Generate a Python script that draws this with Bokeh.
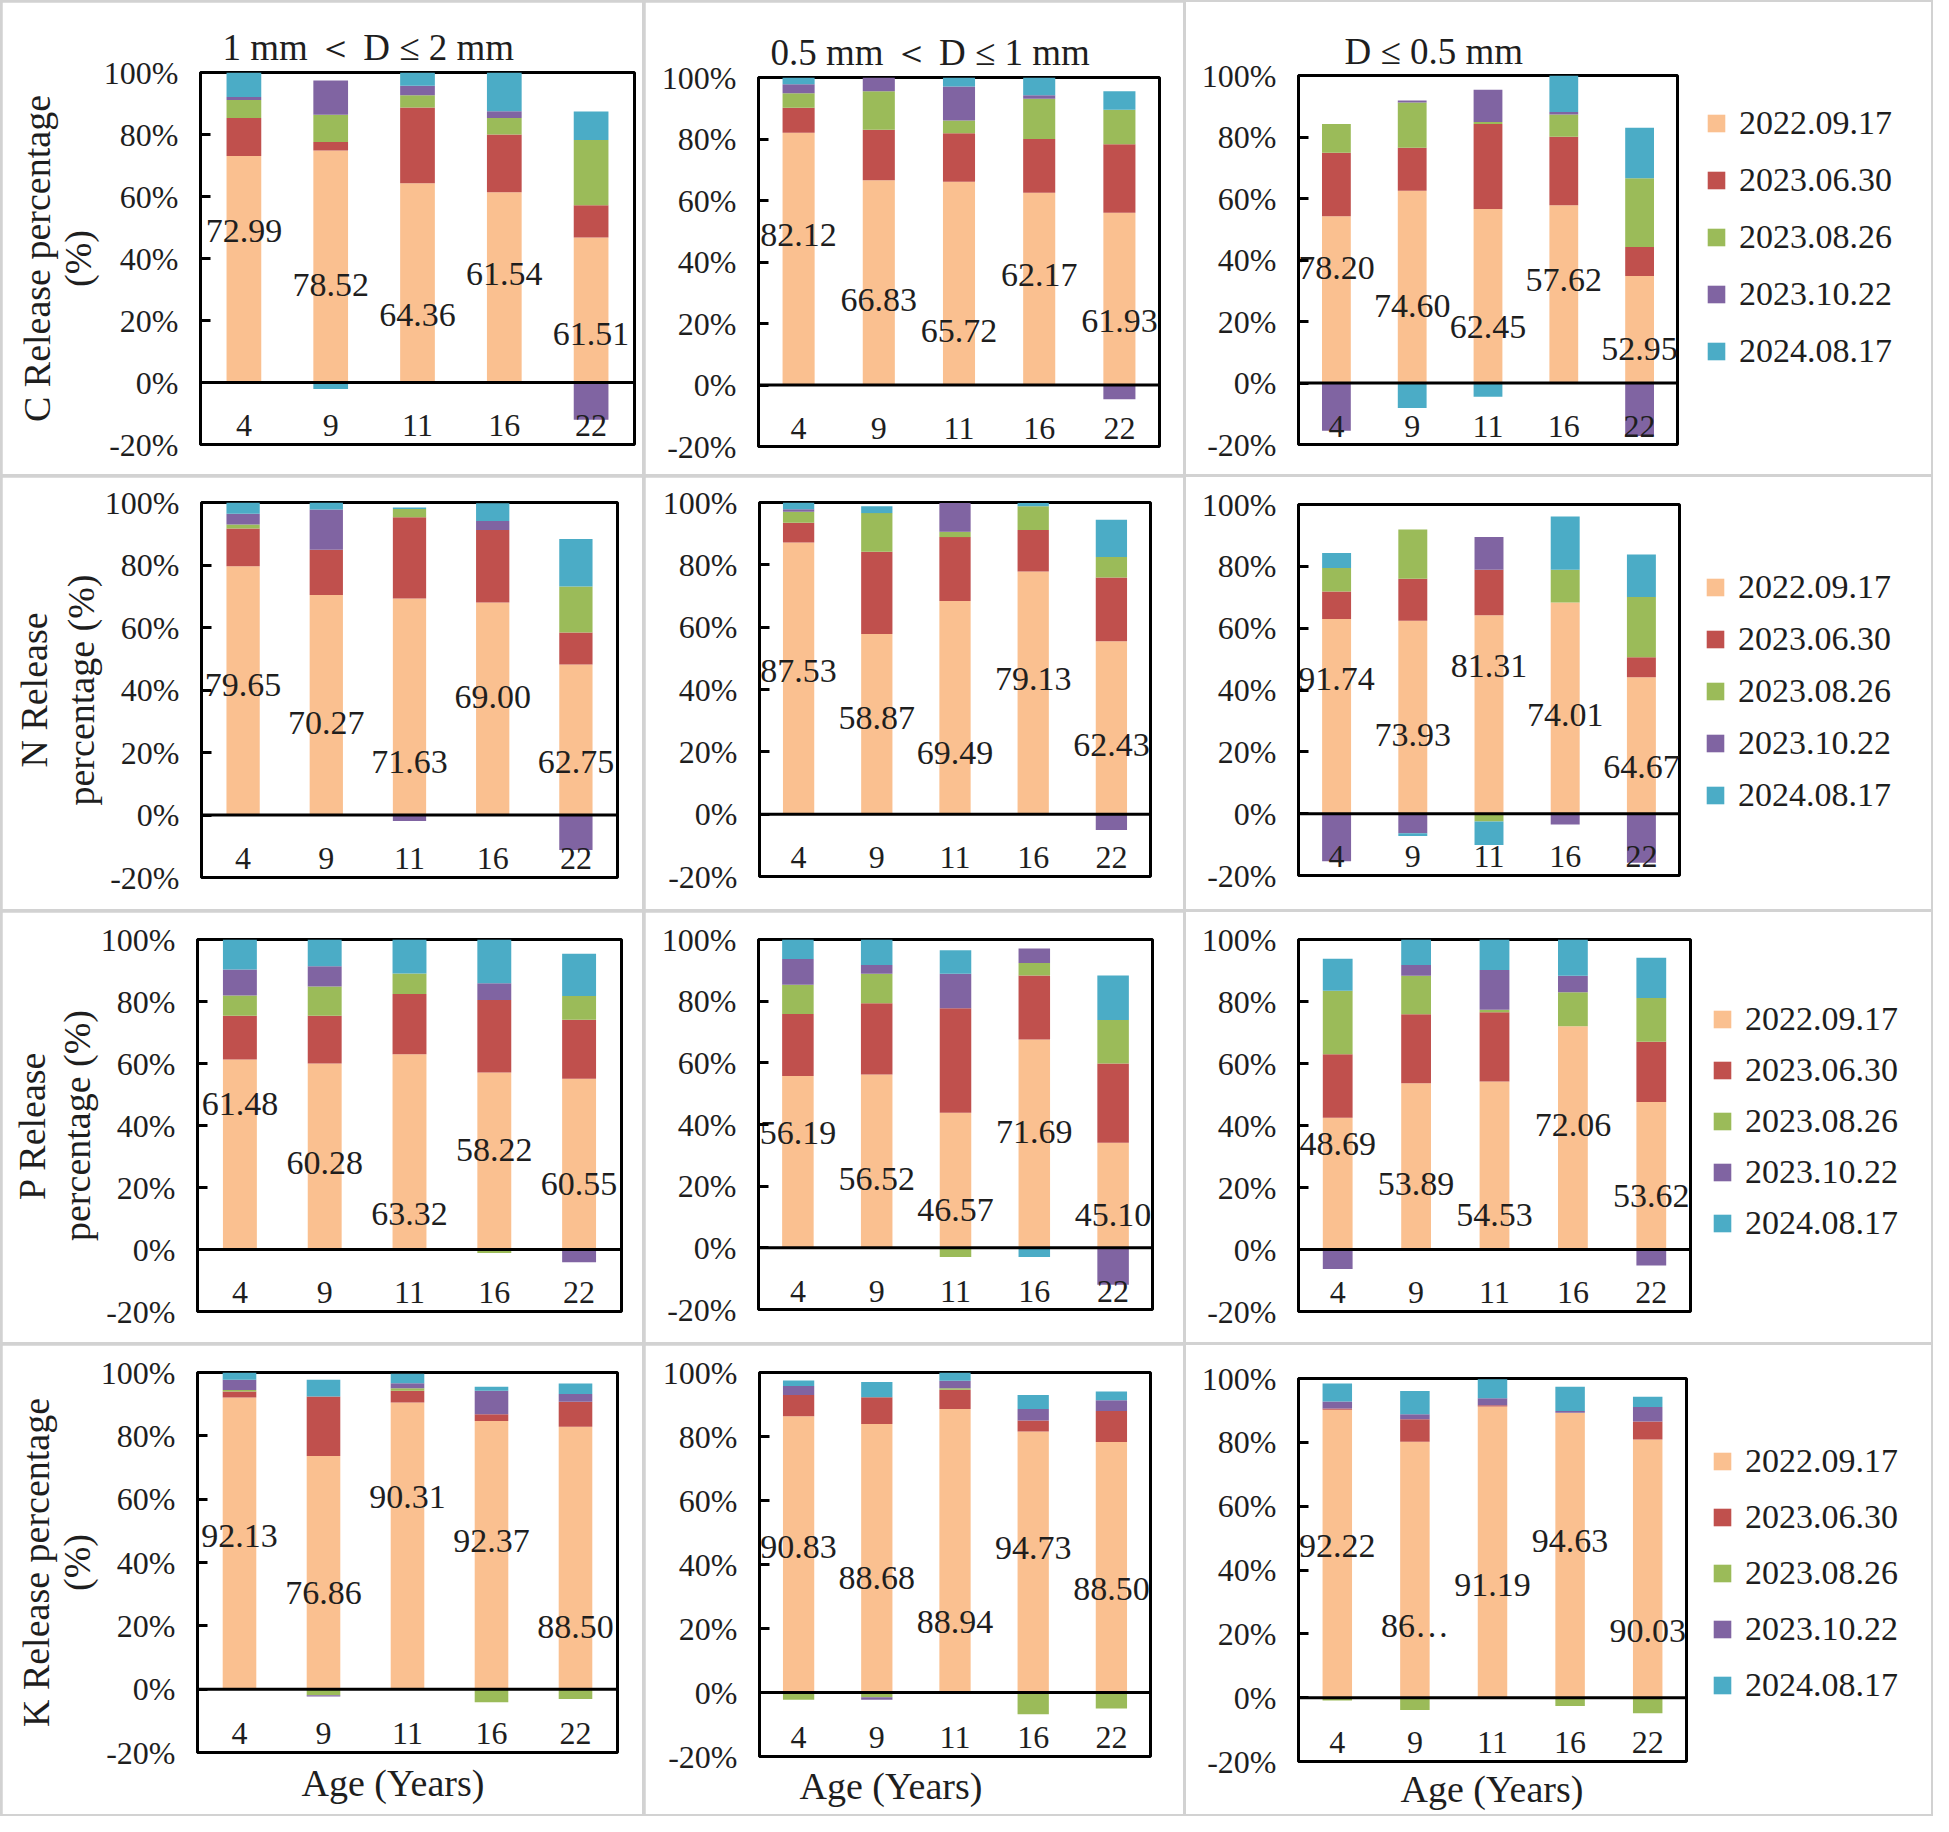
from bokeh.plotting import figure
from bokeh.models import (FactorRange, Range1d, FixedTicker, PrintfTickFormatter, LinearAxis,
                          Span, Legend, LegendItem, ColumnDataSource, Title)
from bokeh.layouts import row, column
from bokeh.embed import file_html
from bokeh.resources import INLINE
from bokeh.core.properties import value

# ---------------- data ----------------
AGES = ["4", "9", "11", "16", "22"]
DATES = ["2022.09.17", "2023.06.30", "2023.08.26", "2023.10.22", "2024.08.17"]
COLORS = ["#FAC090", "#C0504D", "#9BBB59", "#8064A2", "#4BACC6"]
Y_TICKS = [-20, 0, 20, 40, 60, 80, 100]
SIZE_TITLES = ["1 mm ＜ D ≤ 2 mm", "0.5 mm ＜ D ≤ 1 mm", "D ≤ 0.5 mm"]
Y_LABELS = [("C Release percentage", "(%)"), ("N Release", "percentage (%)"),
            ("P Release", "percentage (%)"), ("K Release percentage", "(%)")]
X_TITLE = "Age (Years)"

# each panel: one list per release date (DATES order), values per age (AGES order), in %
C_D1 = [[73.1, 74.8, 64.3, 61.4, 46.8],
        [12.2, 2.8, 24.4, 18.6, 10.4],
        [5.8, 8.8, 4.0, 5.3, 21.0],
        [1.0, 11.0, 3.0, 2.2, -12.0],
        [7.9, -2.1, 4.3, 12.5, 9.2]]
C_D2 = [[82.0, 66.6, 66.1, 62.5, 56.0],
        [8.2, 16.4, 15.8, 17.5, 22.3],
        [4.7, 12.5, 4.1, 13.1, 11.2],
        [2.9, 4.5, 11.1, 1.1, -4.6],
        [2.2, 0.0, 2.9, 5.8, 6.0]]
C_D3 = [[54.2, 62.5, 56.6, 57.8, 34.8],
        [20.7, 14.0, 27.6, 22.3, 9.4],
        [9.3, 14.7, 0.7, 7.2, 22.4],
        [-15.5, 0.7, 10.5, 0.8, -17.2],
        [0.0, -8.1, -4.5, 11.9, 16.4]]
N_D1 = [[79.6, 70.4, 69.3, 68.0, 48.2],
        [12.1, 14.5, 26.0, 23.2, 10.2],
        [1.3, 0.0, 2.6, 0.0, 14.7],
        [3.4, 12.9, -1.9, 2.9, -11.2],
        [3.6, 2.2, 0.5, 5.7, 15.2]]
N_D2 = [[87.2, 57.8, 68.4, 77.9, 55.5],
        [6.3, 26.4, 20.5, 13.3, 20.4],
        [3.5, 12.4, 1.7, 7.6, 6.6],
        [0.8, 0.0, 9.2, 0.0, -5.1],
        [2.2, 2.2, 0.0, 1.0, 12.0]]
N_D3 = [[63.0, 62.4, 64.2, 68.3, 44.1],
        [8.9, 13.6, 14.7, 0.0, 6.5],
        [7.6, 15.9, -2.5, 10.6, 19.5],
        [-15.4, -6.3, 10.6, -3.5, -15.9],
        [4.8, -0.9, -7.6, 17.2, 13.7]]
P_D1 = [[61.3, 60.0, 63.0, 57.1, 55.1],
        [14.1, 15.4, 19.4, 23.4, 19.0],
        [6.5, 9.4, 6.6, -1.1, 7.7],
        [8.4, 6.6, 0.0, 5.4, -4.1],
        [9.7, 8.6, 11.0, 14.1, 13.6]]
P_D2 = [[55.7, 56.2, 43.8, 67.6, 34.1],
        [20.1, 23.1, 33.9, 20.7, 25.7],
        [9.5, 9.6, -3.0, 4.1, 14.1],
        [8.4, 2.8, 11.2, 4.7, -12.0],
        [6.3, 8.3, 7.6, -3.0, 14.4]]
P_D3 = [[42.5, 53.6, 54.2, 72.0, 47.6],
        [20.5, 22.3, 22.3, 0.0, 19.4],
        [20.5, 12.4, 0.8, 11.0, 14.1],
        [-6.3, 3.5, 12.9, 5.3, -5.2],
        [10.3, 8.2, 9.8, 11.7, 13.0]]
K_D1 = [[92.1, 73.6, 90.5, 84.7, 82.9],
        [1.9, 18.8, 3.7, 2.1, 7.9],
        [0.5, -1.9, 0.8, -4.1, -3.1],
        [3.2, -0.4, 1.6, 7.4, 2.4],
        [2.3, 5.3, 3.0, 1.3, 3.3]]
K_D2 = [[86.3, 83.9, 88.6, 81.6, 78.3],
        [6.7, 8.4, 6.0, 3.4, 9.7],
        [-2.3, -1.5, 0.5, -6.8, -5.0],
        [2.8, -0.8, 2.3, 3.6, 3.3],
        [1.7, 4.7, 2.6, 4.4, 2.8]]
K_D3 = [[90.2, 80.2, 91.2, 89.3, 80.9],
        [0.4, 7.0, 0.4, 0.0, 5.6],
        [-0.9, -3.9, 0.0, -2.6, -4.9],
        [2.2, 1.6, 2.2, 0.5, 4.6],
        [5.6, 7.3, 6.0, 7.6, 3.2]]

# printed value labels
C_D1_LAB = ["72.99", "78.52", "64.36", "61.54", "61.51"]
C_D2_LAB = ["82.12", "66.83", "65.72", "62.17", "61.93"]
C_D3_LAB = ["78.20", "74.60", "62.45", "57.62", "52.95"]
N_D1_LAB = ["79.65", "70.27", "71.63", "69.00", "62.75"]
N_D2_LAB = ["87.53", "58.87", "69.49", "79.13", "62.43"]
N_D3_LAB = ["91.74", "73.93", "81.31", "74.01", "64.67"]
P_D1_LAB = ["61.48", "60.28", "63.32", "58.22", "60.55"]
P_D2_LAB = ["56.19", "56.52", "46.57", "71.69", "45.10"]
P_D3_LAB = ["48.69", "53.89", "54.53", "72.06", "53.62"]
K_D1_LAB = ["92.13", "76.86", "90.31", "92.37", "88.50"]
K_D2_LAB = ["90.83", "88.68", "88.94", "94.73", "88.50"]
K_D3_LAB = ["92.22", "86…", "91.19", "94.63", "90.03"]

# ---------------- layout (placement only) ----------------
LABEL_Y = [
    [[48.9, 31.3, 21.7, 35.0, 15.8], [48.8, 27.8, 17.5, 35.9, 20.7], [37.5, 25.1, 18.1, 33.4, 11.1]],
    [[41.6, 29.3, 17.1, 37.8, 17.1], [46.0, 30.7, 19.5, 43.3, 22.1], [43.6, 25.4, 47.7, 31.9, 15.1]],
    [[47.0, 27.8, 11.6, 32.1, 21.1], [37.2, 22.3, 12.2, 37.5, 10.7], [34.0, 21.0, 11.0, 40.1, 17.3]],
    [[48.5, 30.4, 60.8, 46.7, 19.6], [45.5, 35.9, 22.0, 45.2, 32.4], [47.6, 22.5, 35.4, 49.2, 21.0]],
]
COL_W = [640, 538, 745]
ROW_H = [472, 432, 430, 469]
# (border_left, frame_w, border_top, frame_h)
FRAMES = [
    [(198, 434, 70, 372), (113, 401, 75, 369), (112, 379, 73, 369)],
    [(199, 416, 25, 375), (114, 391, 25, 374), (112, 381, 27, 371)],
    [(195, 424, 27, 372), (113, 394, 27, 370), (112, 392, 27, 372)],
    [(195, 420, 27, 380), (114, 391, 27, 384), (112, 388, 33, 383)],
]
YLAB_STANDOFF = [(2, -4), (0, 2), (0, 0), (0, -4)]
TITLE_OFFSET = [22, 12, 46]
TITLE_STANDOFF = [10, 10, 7]
XTITLE_OFFSET = [104, 40, 102]
XTITLE_STANDOFF = [14, 13, 8]
RIGHT_PAD = 3            # white space kept right of the third-column frame
# legend: (left gap in legend area, top gap in legend area, item spacing)
LEGEND_POS = [(25, 101, 17), (22, 90, 12), (18, 87, 11), (22, 96, 16)]
BAR_W = [0.4, 0.4, 0.38]

FONT = "Liberation Serif"
TXT = "#1e1e1e"

PANELS = [[C_D1, C_D2, C_D3], [N_D1, N_D2, N_D3], [P_D1, P_D2, P_D3], [K_D1, K_D2, K_D3]]
LABELS = [[C_D1_LAB, C_D2_LAB, C_D3_LAB], [N_D1_LAB, N_D2_LAB, N_D3_LAB],
          [P_D1_LAB, P_D2_LAB, P_D3_LAB], [K_D1_LAB, K_D2_LAB, K_D3_LAB]]


def stack(series):
    n = len(AGES)
    pos = [0.0] * n
    neg = [0.0] * n
    out = []
    for vals in series:
        bot, top = [], []
        for j, v in enumerate(vals):
            if v >= 0:
                bot.append(pos[j]); top.append(pos[j] + v); pos[j] += v
            else:
                top.append(neg[j]); bot.append(neg[j] + v); neg[j] += v
        out.append((bot, top))
    return out


def make_panel(r, c):
    bl, fw, bt, fh = FRAMES[r][c]
    W, H = COL_W[c], ROW_H[r]
    if c == 2:
        W = bl + fw + RIGHT_PAD
    p = figure(width=W, height=H, x_range=FactorRange(*AGES, range_padding=0),
               y_range=Range1d(-20, 100), output_backend="svg", toolbar_location=None,
               min_border_left=bl, min_border_right=W - bl - fw,
               min_border_top=bt, min_border_bottom=H - bt - fh, frame_align=False)
    p.background_fill_color = "white"
    p.border_fill_color = "white"
    p.outline_line_color = "black"
    p.outline_line_width = 3
    p.grid.visible = False
    p.xaxis.visible = False

    ya = p.yaxis[0]
    ya.ticker = FixedTicker(ticks=Y_TICKS)
    ya.formatter = PrintfTickFormatter(format="%d%%")
    ya.major_tick_in = 10
    ya.major_tick_out = 0
    ya.minor_tick_line_color = None
    ya.major_tick_line_width = 3
    ya.axis_line_width = 3
    ya.major_label_standoff = 22
    ya.major_label_text_font = FONT
    ya.major_label_text_font_size = "32px"
    ya.major_label_text_color = TXT

    if c == 0:
        outer, inner = Y_LABELS[r]
        ya.axis_label = inner
        ya.axis_label_standoff = YLAB_STANDOFF[r][0]
        ya.axis_label_text_font = FONT
        ya.axis_label_text_font_size = "38px"
        ya.axis_label_text_font_style = "normal"
        ya.axis_label_text_color = TXT
        ax2 = LinearAxis(axis_label=outer, ticker=FixedTicker(ticks=[]),
                         major_label_text_font_size="0px", major_label_standoff=0,
                         major_tick_in=0, major_tick_out=0, minor_tick_in=0, minor_tick_out=0,
                         axis_line_color=None, axis_label_standoff=YLAB_STANDOFF[r][1],
                         axis_label_text_font=FONT, axis_label_text_font_size="38px",
                         axis_label_text_font_style="normal", axis_label_text_color=TXT)
        p.add_layout(ax2, "left")

    if r == 0:
        p.title.text = SIZE_TITLES[c]
        p.title.text_font = FONT
        p.title.text_font_size = "37px"
        p.title.text_font_style = "normal"
        p.title.text_color = TXT
        p.title.align = "left"
        p.title.offset = TITLE_OFFSET[c]
        p.title.standoff = TITLE_STANDOFF[c]

    if r == 3:
        p.add_layout(Title(text=X_TITLE, align="left", offset=XTITLE_OFFSET[c],
                           standoff=XTITLE_STANDOFF[c], text_font=FONT, text_font_size="38px",
                           text_font_style="normal", text_color=TXT), "below")

    for (bot, top), col in zip(stack(PANELS[r][c]), COLORS):
        src = ColumnDataSource(dict(x=AGES, bottom=bot, top=top))
        p.vbar(x="x", bottom="bottom", top="top", width=BAR_W[c], source=src,
               fill_color=col, line_color=None)

    p.add_layout(Span(location=0, dimension="width", line_color="black", line_width=3))

    p.text(x=AGES, y=LABEL_Y[r][c], text=LABELS[r][c], text_align="center",
           text_baseline="middle", text_font=value(FONT), text_font_size="34px",
           text_color=TXT)
    p.text(x=AGES, y=[-14] * len(AGES), text=AGES, text_align="center",
           text_baseline="middle", text_font=value(FONT), text_font_size="32px",
           text_color=TXT)

    if c != 2:
        return p

    # legend area to the right of the third panel
    lx, ly, sp = LEGEND_POS[r]
    WL = COL_W[2] - W
    q = figure(width=WL, height=H, x_range=Range1d(0, 1), y_range=Range1d(0, 1),
               x_axis_type=None, y_axis_type=None, output_backend="svg",
               toolbar_location=None, min_border_left=lx, min_border_right=0,
               min_border_top=ly, min_border_bottom=0, frame_align=False)
    q.title.visible = False
    q.outline_line_color = None
    q.grid.visible = False
    q.background_fill_color = "white"
    q.border_fill_color = "white"
    # legend keys: same colours, drawn outside the (empty) visible range
    keys = [q.vbar(x=[-5], bottom=[-6], top=[-5], width=0.5, fill_color=col, line_color=None)
            for col in COLORS]
    legend = Legend(items=[LegendItem(label=d, renderers=[k]) for d, k in zip(DATES, keys)],
                    location="top_left", glyph_width=22, glyph_height=22, label_height=40,
                    spacing=sp, padding=0, margin=0, label_standoff=12,
                    label_text_font=FONT, label_text_font_size="34px",
                    label_text_color=TXT, border_line_color=None,
                    background_fill_alpha=0)
    q.add_layout(legend, "center")
    return row([p, q], spacing=0, styles={"background-color": "white"})


rows = []
for r in range(4):
    rows.append(row([make_panel(r, c) for c in range(3)], spacing=3))
layout = column(rows, spacing=3,
                styles={"background-color": "#d2d2d2", "padding": "2px"})

open("out.html", "w").write(file_html(layout, INLINE))
